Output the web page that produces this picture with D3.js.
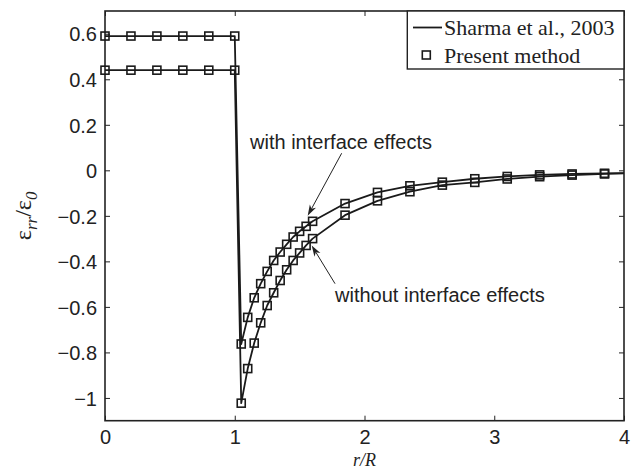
<!DOCTYPE html>
<html><head><meta charset="utf-8">
<script src="https://cdn.jsdelivr.net/npm/d3@7"></script>
<style>body{margin:0;background:#fff}svg{display:block}</style>
</head><body>
<svg id="c" width="638" height="474"></svg>
<script>
// ---- data ----
const innerX = [0, 0.2, 0.4, 0.6, 0.8, 1.0];
const innerWith = 0.59;      // inside inclusion, with interface effects
const innerWithout = 0.44;   // inside inclusion, without interface effects
const outerX = [1.05,1.1,1.15,1.2,1.25,1.3,1.35,1.4,1.45,1.5,1.55,1.6,1.85,2.1,2.35,2.6,2.85,3.1,3.35,3.6,3.85];
const withIE = [-0.763,-0.646,-0.560,-0.498,-0.444,-0.396,-0.359,-0.325,-0.293,-0.268,-0.246,-0.224,-0.146,-0.097,-0.068,-0.052,-0.037,-0.027,-0.020,-0.016,-0.013];
const withoutIE = [-1.023,-0.871,-0.759,-0.670,-0.594,-0.538,-0.484,-0.437,-0.396,-0.363,-0.330,-0.300,-0.197,-0.134,-0.094,-0.065,-0.053,-0.038,-0.028,-0.021,-0.016];
const endX = 4, endWith = -0.012, endWithout = -0.013;
const xTicks = [0,1,2,3,4];
const yTicks = [-1,-0.8,-0.6,-0.4,-0.2,0,0.2,0.4,0.6];
const legendLabels = ["Sharma et al., 2003", "Present method"];
const annotations = [
  {text:"with interface effects", tx:1.118, ty:0.094, from:[1.824,0.075], to:[1.562,-0.200]},
  {text:"without interface effects", tx:1.773, ty:-0.58, from:[1.773,-0.498], to:[1.593,-0.330]}
];

// ---- scales ----
const L=105, R=624, T=11, B=420.7;
const x = d3.scaleLinear().domain([0,4]).range([L,R]);
const y = d3.scaleLinear().domain([-1.1,0.7]).range([B,T]);
const svg = d3.select("#c");
const sans = "'Liberation Sans', Arial, Helvetica, sans-serif";
const serif = "'Liberation Serif', 'Times New Roman', serif";

// series build
function series(innerV, outerV, endV){
  const pts = innerX.map(v=>[v,innerV]).concat(outerX.map((v,i)=>[v,outerV[i]]));
  return {line: pts.concat([[endX,endV]]), marks: pts};
}
const S = [series(innerWith, withIE, endWith), series(innerWithout, withoutIE, endWithout)];

// axes (ticks inward, all four sides)
const fmt = d => d===0 ? "0" : (d<0 ? "\u2212" : "") + String(Math.abs(d));
const gx = svg.append("g").attr("transform",`translate(0,${B})`)
  .call(d3.axisBottom(x).tickValues(xTicks).tickSize(-5).tickPadding(9).tickFormat(fmt));
const gxt = svg.append("g").attr("transform",`translate(0,${T})`)
  .call(d3.axisTop(x).tickValues(xTicks).tickSize(-5).tickFormat(""));
const gy = svg.append("g").attr("transform",`translate(${L},0)`)
  .call(d3.axisLeft(y).tickValues(yTicks).tickSize(-5).tickPadding(8).tickFormat(fmt));
const gyr = svg.append("g").attr("transform",`translate(${R},0)`)
  .call(d3.axisRight(y).tickValues(yTicks).tickSize(-5).tickFormat(""));
[gx,gxt,gy,gyr].forEach(g=>{
  g.select(".domain").remove();
  g.selectAll(".tick line").attr("stroke","#222").attr("stroke-width",1);
  g.selectAll("text").attr("font-family",sans).attr("font-size",20).attr("fill","#222");
});
gx.selectAll("text").attr("dy","0.72em");
gy.selectAll("text").attr("dy","0.36em");

// frame
svg.append("rect").attr("x",L).attr("y",T).attr("width",R-L).attr("height",B-T)
  .attr("fill","none").attr("stroke","#222").attr("stroke-width",1.6);

// lines
const line = d3.line().x(d=>x(d[0])).y(d=>y(d[1]));
S.forEach(s=>{
  svg.append("path").datum(s.line).attr("d",line).attr("fill","none")
    .attr("stroke","#1a1a1a").attr("stroke-width",1.8).attr("stroke-linejoin","round");
});
// markers
const ms = 8;
S.forEach(s=>{
  svg.append("g").selectAll("rect").data(s.marks).join("rect")
    .attr("x",d=>x(d[0])-ms/2).attr("y",d=>y(d[1])-ms/2).attr("width",ms).attr("height",ms)
    .attr("fill","none").attr("stroke","#1a1a1a").attr("stroke-width",1.6);
});

// annotations
annotations.forEach(a=>{
  svg.append("text").attr("x",x(a.tx)).attr("y",y(a.ty)).text(a.text)
    .attr("font-family",sans).attr("font-size",20).attr("fill","#222");
  const x1=x(a.from[0]), y1=y(a.from[1]), x2=x(a.to[0]), y2=y(a.to[1]);
  const ang=Math.atan2(y2-y1,x2-x1), hl=11, hw=3.5;
  const bx=x2-hl*Math.cos(ang), by=y2-hl*Math.sin(ang);
  svg.append("line").attr("x1",x1).attr("y1",y1).attr("x2",bx+3*Math.cos(ang)).attr("y2",by+3*Math.sin(ang))
    .attr("stroke","#222").attr("stroke-width",1);
  const px=-Math.sin(ang), py=Math.cos(ang);
  const nx=x2-(hl-3)*Math.cos(ang), ny=y2-(hl-3)*Math.sin(ang);
  svg.append("path").attr("d",`M${x2},${y2}L${bx+hw*px},${by+hw*py}L${nx},${ny}L${bx-hw*px},${by-hw*py}Z`)
    .attr("fill","#222");
});

// legend
const lg = svg.append("g");
const lx0=407.3, ly0=T, lw=R-lx0, lh=58;
lg.append("rect").attr("x",lx0).attr("y",ly0).attr("width",lw).attr("height",lh)
  .attr("fill","#fff").attr("stroke","#222").attr("stroke-width",1.4);
lg.append("line").attr("x1",413).attr("x2",442).attr("y1",ly0+16.5).attr("y2",ly0+16.5)
  .attr("stroke","#1a1a1a").attr("stroke-width",1.8);
lg.append("rect").attr("x",426.3-ms/2).attr("y",ly0+44-ms/2).attr("width",ms).attr("height",ms)
  .attr("fill","none").attr("stroke","#1a1a1a").attr("stroke-width",1.6);
legendLabels.forEach((t,i)=>{
  lg.append("text").attr("x",444).attr("y",ly0+23.5+i*28).text(t)
    .attr("font-family",serif).attr("font-size",22).attr("fill","#222");
});

// axis labels
svg.append("text").attr("x",(L+R)/2).attr("y",466).attr("text-anchor","middle")
  .attr("font-family",serif).attr("font-style","italic").attr("font-size",18).attr("fill","#222").text("r/R");
const yl = svg.append("text").attr("transform",`translate(31,${(T+B)/2}) rotate(-90)`)
  .attr("text-anchor","middle").attr("font-family",serif).attr("font-size",24).attr("fill","#222");
yl.append("tspan").text("ε");
yl.append("tspan").attr("font-size",17).attr("font-style","italic").attr("dy",6).text("rr");
yl.append("tspan").attr("dy",-6).text("/ε");
yl.append("tspan").attr("font-size",17).attr("font-style","italic").attr("dy",6).text("0");
</script>
</body></html>
